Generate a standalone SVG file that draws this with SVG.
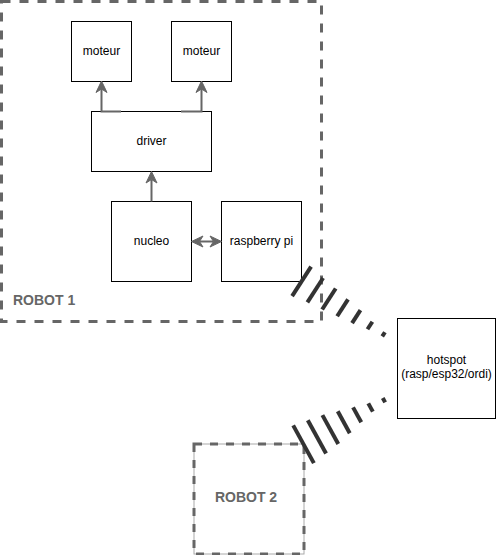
<svg xmlns="http://www.w3.org/2000/svg" width="498" height="555" viewBox="0 0 498 555">
<style>
.box{fill:#fff;stroke:#000;stroke-width:1}
.lbl{font-family:"Liberation Sans",Arial,sans-serif;font-size:12px;fill:#000;text-anchor:middle}
.grp{fill:none;stroke:#666;stroke-width:3}
.glbl{font-family:"Liberation Sans",Arial,sans-serif;font-size:14px;font-weight:bold;fill:#666}
.edge{fill:none;stroke:#666;stroke-width:2}
.wl{stroke:#333;stroke-width:4;stroke-linecap:butt}
</style>
<defs>
<marker id="arr" markerUnits="userSpaceOnUse" viewBox="-13 -7 14 14" markerWidth="14" markerHeight="14" refX="-8" refY="0" orient="auto-start-reverse">
<path d="M0,0 L-11.5,-5.5 L-8,0 L-11.5,5.5 Z" fill="#666" stroke="#666" stroke-width="1"/>
</marker>
</defs>
<g id="robot1">
<rect class="grp" x="1.5" y="1.5" width="320" height="320" stroke-dasharray="9 9"/>
<text class="glbl" x="13" y="305">ROBOT 1</text>
</g>
<g id="moteur1"><rect class="box" x="71.5" y="21.5" width="60" height="60"/><text class="lbl" x="101.5" y="55">moteur</text></g>
<g id="moteur2"><rect class="box" x="171.5" y="21.5" width="60" height="60"/><text class="lbl" x="201.5" y="55">moteur</text></g>
<g id="driver"><rect class="box" x="91.5" y="111.5" width="120" height="60"/><text class="lbl" x="151.5" y="145">driver</text></g>
<g id="nucleo"><rect class="box" x="111.5" y="201.5" width="80" height="80"/><text class="lbl" x="151.5" y="245">nucleo</text></g>
<g id="raspberry"><rect class="box" x="221.5" y="201.5" width="80" height="80"/><text class="lbl" x="261.5" y="245">raspberry pi</text></g>
<g id="hotspot"><rect class="box" x="397.5" y="318.5" width="98" height="100"/><text class="lbl" x="446.5" y="364">hotspot</text><text class="lbl" x="446.5" y="378">(rasp/esp32/ordi)</text></g>
<g id="robot2">
<rect x="194" y="444" width="110" height="110" fill="none" stroke="#aaa" stroke-width="1"/>
<rect class="grp" x="194" y="444" width="110" height="110" stroke-dasharray="8 8"/>
<text class="glbl" x="246" y="502" text-anchor="middle">ROBOT 2</text>
</g>
<g id="connectors">
<path class="edge" d="M121,111.5 H101.5 V89" marker-end="url(#arr)"/>
<path class="edge" d="M181,111.5 H201.5 V89" marker-end="url(#arr)"/>
<path class="edge" d="M151.5,201.5 V179.5" marker-end="url(#arr)"/>
<path class="edge" d="M199.5,241.5 H213.5" marker-start="url(#arr)" marker-end="url(#arr)"/>
<g id="link1">
<line class="wl" x1="292.1" y1="296.08" x2="311.08" y2="266.68"/>
<line class="wl" x1="307.38" y1="302.39" x2="323.12" y2="278.03"/>
<line class="wl" x1="322.14" y1="309.53" x2="335.7" y2="288.53"/>
<line class="wl" x1="337.16" y1="316.26" x2="348.02" y2="299.46"/>
<line class="wl" x1="352.06" y1="323.2" x2="360.46" y2="310.18"/>
<line class="wl" x1="367.48" y1="329.29" x2="372.36" y2="321.73"/>
<line class="wl" x1="382.23" y1="336.44" x2="384.95" y2="332.24"/>
</g>
<g id="link2">
<line class="wl" x1="293.19" y1="425.41" x2="313.87" y2="463.11"/>
<line class="wl" x1="307.79" y1="420.25" x2="326.07" y2="453.57"/>
<line class="wl" x1="322.41" y1="415.09" x2="338.27" y2="444.03"/>
<line class="wl" x1="337.74" y1="411.25" x2="349.76" y2="433.17"/>
<line class="wl" x1="353.06" y1="407.4" x2="361.24" y2="422.3"/>
<line class="wl" x1="368.28" y1="403.34" x2="372.84" y2="411.66"/>
<line class="wl" x1="382.76" y1="397.96" x2="385.16" y2="402.34"/>
</g>
</g>
</svg>
